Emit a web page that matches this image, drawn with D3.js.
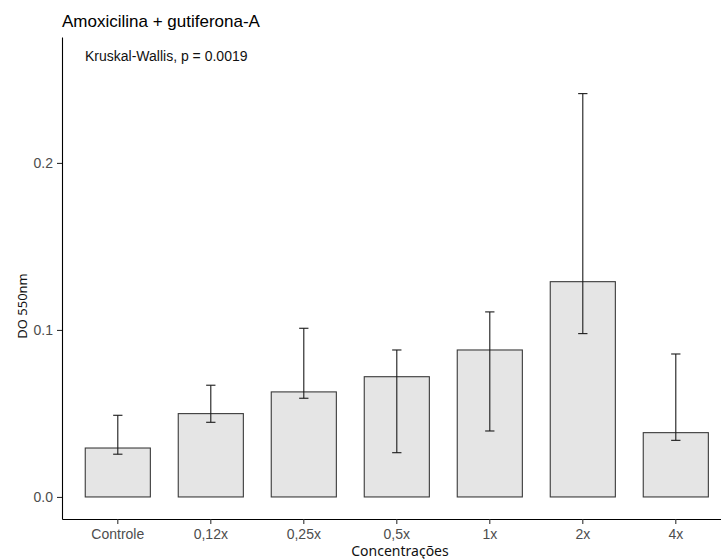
<!DOCTYPE html>
<html>
<head>
<meta charset="utf-8">
<script src="https://cdn.jsdelivr.net/npm/d3@7"></script>
<style>
  body { margin: 0; background: #fff; }
  svg { display: block; font-family: "Liberation Sans", Arial, sans-serif; }
</style>
</head>
<body>
<div id="wrapper"></div>
<script>
const categories = ["Controle", "0,12x", "0,25x", "0,5x", "1x", "2x", "4x"]
const means = [0.0293, 0.0499, 0.0629, 0.0720, 0.0880, 0.1289, 0.0385]
const errLow = [0.0256, 0.0447, 0.0591, 0.0265, 0.0395, 0.0978, 0.0339]
const errHigh = [0.0489, 0.0669, 0.1010, 0.0880, 0.1108, 0.2415, 0.0856]
const yTicks = [0, 0.1, 0.2]

const dataset = categories.map((c, i) => ({
    name: c, mean: means[i], low: errLow[i], high: errHigh[i]
}))

let dimensions = {
    width: 721,
    height: 559,
    margin: { top: 37, right: -10.6, bottom: 40, left: 62 },
}
dimensions.boundedWidth = dimensions.width - dimensions.margin.left - dimensions.margin.right
dimensions.boundedHeight = dimensions.height - dimensions.margin.top - dimensions.margin.bottom

const wrapper = d3.select("#wrapper")
                  .append("svg")
                  .attr("width", dimensions.width)
                  .attr("height", dimensions.height)

const bounds = wrapper.append("g")
                      .attr("transform", `translate(${dimensions.margin.left},${dimensions.margin.top})`)

const xScale = d3.scaleBand()
                 .domain(categories)
                 .range([0, dimensions.boundedWidth])
                 .paddingInner(0.3)
                 .paddingOuter(0.25)

const yScale = d3.scaleLinear()
                 .domain([-0.0132, 0.2754])
                 .range([dimensions.boundedHeight, 0])

// bars
bounds.selectAll("rect.bar")
      .data(dataset)
      .enter()
      .append("rect")
      .attr("class", "bar")
      .attr("x", d => xScale(d.name))
      .attr("width", xScale.bandwidth())
      .attr("y", d => yScale(d.mean))
      .attr("height", d => yScale(0) - yScale(d.mean))
      .attr("fill", "#e5e5e5")
      .attr("stroke", "#3a3a3a")
      .attr("stroke-width", 1.1)

// error bars
const capW = xScale.step() * 0.1
const errs = bounds.selectAll("g.err")
                   .data(dataset)
                   .enter()
                   .append("g")
                   .attr("class", "err")
                   .attr("stroke", "#1a1a1a")
                   .attr("stroke-width", 1.1)

errs.append("line")
    .attr("x1", d => xScale(d.name) + xScale.bandwidth() / 2)
    .attr("x2", d => xScale(d.name) + xScale.bandwidth() / 2)
    .attr("y1", d => yScale(d.low))
    .attr("y2", d => yScale(d.high))
errs.selectAll("line.cap")
    .data(d => [[d, d.low], [d, d.high]])
    .enter()
    .append("line")
    .attr("class", "cap")
    .attr("x1", ([d]) => xScale(d.name) + xScale.bandwidth() / 2 - capW / 2)
    .attr("x2", ([d]) => xScale(d.name) + xScale.bandwidth() / 2 + capW / 2)
    .attr("y1", ([, v]) => yScale(v))
    .attr("y2", ([, v]) => yScale(v))

// axes
const xAxis = bounds.append("g")
                    .attr("transform", `translate(0,${dimensions.boundedHeight})`)
                    .call(d3.axisBottom(xScale).tickSize(5).tickSizeOuter(0).tickPadding(5))
const yAxis = bounds.append("g")
                    .call(d3.axisLeft(yScale).tickValues(yTicks).tickFormat(d3.format(".1f"))
                          .tickSize(5).tickSizeOuter(0).tickPadding(4))

;[xAxis, yAxis].forEach(ax => {
    ax.select(".domain").attr("stroke", "#000").attr("stroke-width", 1.1)
    ax.selectAll(".tick line").attr("stroke", "#333").attr("stroke-width", 1.1)
    ax.selectAll(".tick text")
      .attr("fill", "#4d4d4d")
      .style("font-family", "'Liberation Sans', Arial, sans-serif")
      .style("font-size", "14px")
})

// titles
wrapper.append("text")
       .attr("x", 62)
       .attr("y", 27)
       .attr("fill", "#000")
       .style("font-size", "17px")
       .text("Amoxicilina + gutiferona-A")

bounds.append("text")
      .attr("x", 23)
      .attr("y", 24)
      .attr("fill", "#111")
      .style("font-size", "14px")
      .text("Kruskal-Wallis, p = 0.0019")

wrapper.append("text")
       .attr("x", 400)
       .attr("y", 556)
       .attr("text-anchor", "middle")
       .attr("fill", "#111")
       .style("font-family", "'Noto Sans', sans-serif")
       .style("font-size", "14px")
       .text("Concentrações")

wrapper.append("text")
       .attr("transform", "translate(27,306) rotate(-90)")
       .attr("text-anchor", "middle")
       .attr("fill", "#111")
       .style("font-family", "'Noto Sans', sans-serif")
       .style("font-size", "13px")
       .text("DO 550nm")
</script>
</body>
</html>
